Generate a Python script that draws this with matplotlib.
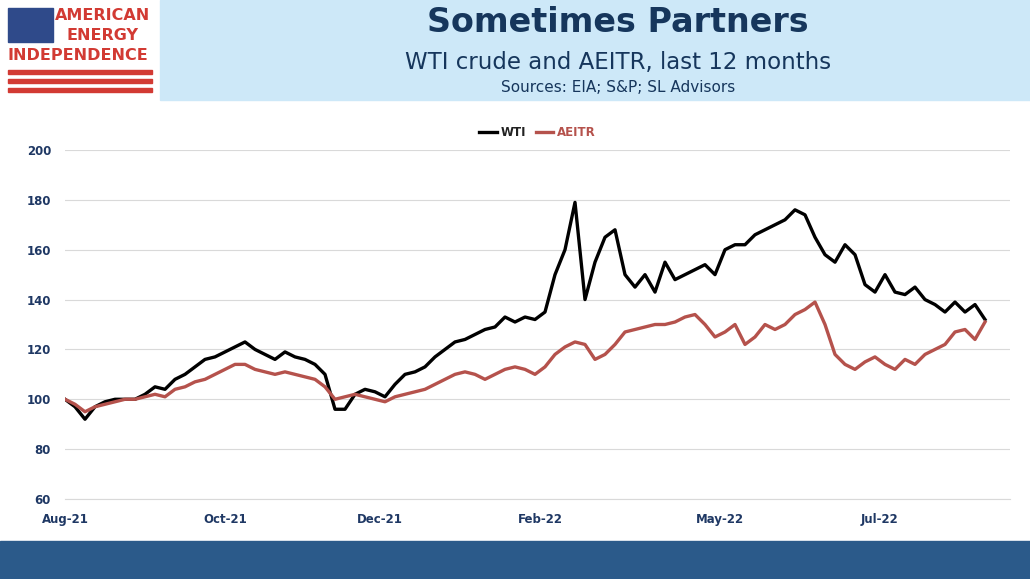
import numpy as np
import matplotlib.pyplot as plt
from matplotlib.patches import Rectangle

wti = [100, 97, 92, 97, 99, 100, 100, 100, 102, 105,
       104, 108, 110, 113, 116, 117, 119, 121, 123, 120,
       118, 116, 119, 117, 116, 114, 110, 96, 96, 102,
       104, 103, 101, 106, 110, 111, 113, 117, 120, 123,
       124, 126, 128, 129, 133, 131, 133, 132, 135, 150,
       160, 179, 140, 155, 165, 168, 150, 145, 150, 143,
       155, 148, 150, 152, 154, 150, 160, 162, 162, 166,
       168, 170, 172, 176, 174, 165, 158, 155, 162, 158,
       146, 143, 150, 143, 142, 145, 140, 138, 135, 139,
       135, 138, 132]
aeitr = [100, 98, 95, 97, 98, 99, 100, 100, 101, 102,
         101, 104, 105, 107, 108, 110, 112, 114, 114, 112,
         111, 110, 111, 110, 109, 108, 105, 100, 101, 102,
         101, 100, 99, 101, 102, 103, 104, 106, 108, 110,
         111, 110, 108, 110, 112, 113, 112, 110, 113, 118,
         121, 123, 122, 116, 118, 122, 127, 128, 129, 130,
         130, 131, 133, 134, 130, 125, 127, 130, 122, 125,
         130, 128, 130, 134, 136, 139, 130, 118, 114, 112,
         115, 117, 114, 112, 116, 114, 118, 120, 122, 127,
         128, 124, 131]
tick_labels = ["Aug-21", "Oct-21", "Dec-21", "Feb-22", "May-22", "Jul-22"]
tick_pos = [0, 16, 31.5, 47.5, 65.5, 81.5]

navy = "#1f3864"
red = "#b5524c"

fig = plt.figure(figsize=(10.30, 5.79), dpi=100)

# header
fig.patches.append(Rectangle((160/1030, 1 - 100/579), 870/1030, 100/579,
                             transform=fig.transFigure, color="#cde8f8", zorder=0))
fig.text(0.6, 1 - 22/579, "Sometimes Partners", ha="center", va="center",
         fontsize=24, fontweight="bold", color="#16365c")
fig.text(0.6, 1 - 62/579, "WTI crude and AEITR, last 12 months", ha="center", va="center",
         fontsize=16.5, color="#16365c")
fig.text(0.6, 1 - 88/579, "Sources: EIA; S&P; SL Advisors", ha="center", va="center",
         fontsize=11, color="#16365c")

# logo
fig.patches.append(Rectangle((8/1030, 1 - 42/579), 45/1030, 34/579,
                             transform=fig.transFigure, color="#2f4a8a"))
fig.text(103/1030, 1 - 16/579, "AMERICAN", ha="center", va="center", fontsize=11.5,
         fontweight="bold", color="#d23a33")
fig.text(103/1030, 1 - 36/579, "ENERGY", ha="center", va="center", fontsize=11.5,
         fontweight="bold", color="#d23a33")
fig.text(78/1030, 1 - 56/579, "INDEPENDENCE", ha="center", va="center", fontsize=11.5,
         fontweight="bold", color="#d23a33")
for i in range(3):
    y = 70 + i * 9
    fig.patches.append(Rectangle((8/1030, 1 - (y + 4)/579), 144/1030, 4/579,
                                 transform=fig.transFigure, color="#d23a33"))

# footer band
fig.patches.append(Rectangle((0, 0), 1, 38/579, transform=fig.transFigure, color="#2b5a8a"))

ax = fig.add_axes([65/1030, 80/579, 945/1030, 349/579])
x = np.arange(len(wti))
ax.plot(x, wti, color="black", lw=2.4, label="WTI")
ax.plot(x, aeitr, color=red, lw=2.4, label="AEITR")
ax.set_ylim(60, 200)
ax.set_yticks(range(60, 201, 20))
ax.set_xlim(0, 94.5)
ax.set_xticks(tick_pos)
ax.set_xticklabels(tick_labels)
ax.grid(axis="y", color="#d9d9d9", lw=0.8)
for s in ["top", "right", "left"]:
    ax.spines[s].set_visible(False)
ax.spines["bottom"].set_color("#d9d9d9")
ax.tick_params(length=0, labelsize=8.5, labelcolor=navy, pad=10)
for lab in ax.get_xticklabels() + ax.get_yticklabels():
    lab.set_fontweight("bold")
leg = ax.legend(loc="lower center", bbox_to_anchor=(0.5, 1.0), ncol=2, frameon=False,
                fontsize=8.5, handlelength=1.5, columnspacing=0.8, handletextpad=0.3)
leg.get_texts()[0].set_color("#222222")
leg.get_texts()[1].set_color(red)
for t in leg.get_texts():
    t.set_fontweight("bold")

fig.savefig("out.png", dpi=100)
